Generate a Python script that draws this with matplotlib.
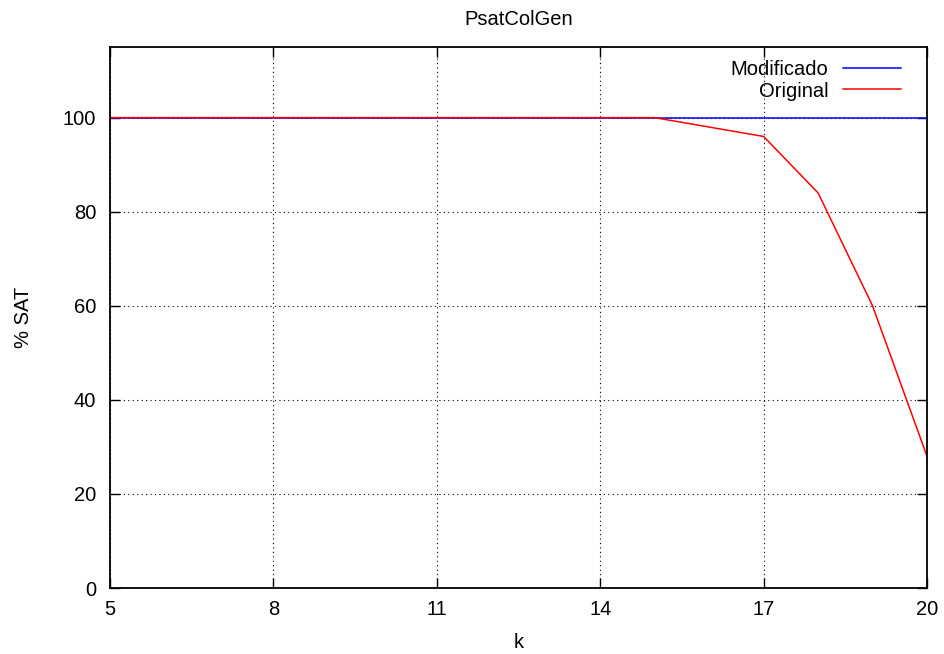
import matplotlib.pyplot as plt
import numpy as np

plt.rcParams['font.family'] = ['Liberation Sans', 'DejaVu Sans']

# data
k = [5, 6, 7, 8, 9, 10, 11, 12, 13, 14, 15, 16, 17, 18, 19, 20]
modificado = [100] * 16
original = [100, 100, 100, 100, 100, 100, 100, 100, 100, 100, 100, 98, 96, 84, 60, 28]
xticks = [5, 8, 11, 14, 17, 20]
yticks = [0, 20, 40, 60, 80, 100]

fs = 14.5

fig = plt.figure(figsize=(9.44, 6.54), dpi=100)
ax = fig.add_axes([0.1165, 0.1009, 0.8655, 0.8271])

ax.plot(k, modificado, color='#0000ff', lw=1.1, label='Modificado')
ax.plot(k, original, color='#ff0000', lw=1.1, label='Original')

ax.set_xlim(5, 20)
ax.set_ylim(0, 115)
ax.set_xticks(xticks)
ax.set_yticks(yticks)
ax.grid(True, color='black', linestyle=(0, (1, 3)), linewidth=0.8)
ax.tick_params(direction='in', length=7, width=1, top=True, right=True,
               labelsize=fs)
ax.tick_params(axis='y', pad=10)
ax.tick_params(axis='x', pad=8.5)
for s in ax.spines.values():
    s.set_linewidth(1.3)

ax.set_title('PsatColGen', fontsize=fs, pad=16)
ax.set_xlabel('k', fontsize=fs, labelpad=10)
ax.set_ylabel('% SAT', fontsize=fs, labelpad=21.5)

leg = ax.legend(loc='upper right', frameon=False, markerfirst=False,
                fontsize=fs, handlelength=2.9, handletextpad=0.7,
                labelspacing=0.12, borderaxespad=0, borderpad=0,
                bbox_to_anchor=(1 - 26 / 817, 1 - 13 / 541))
for t in leg.get_texts():
    t.set_ha('right')

plt.savefig('out.png', dpi=100)
